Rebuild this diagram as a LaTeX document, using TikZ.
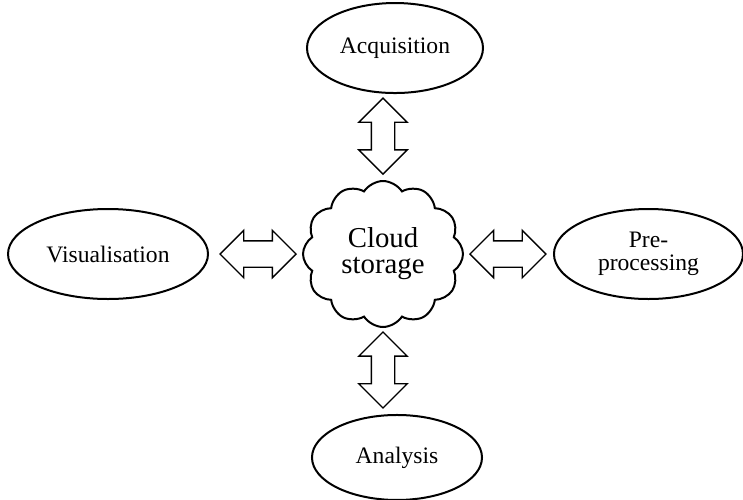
\documentclass[tikz,border=0pt]{standalone}
\usepackage{fontspec}
\setmainfont{Liberation Serif}
\usetikzlibrary{shapes,arrows,positioning}

\begin{document}
\begin{tikzpicture}[
    stage/.style={draw, ellipse, line width=1pt, inner sep=0pt, minimum height=45pt, align=center, font=\fontsize{11.8}{11.8}\selectfont},
    link/.style={draw, double arrow, line width=0.7pt, inner xsep=0pt, inner ysep=5.5pt, minimum height=38pt, double arrow head extend=6.25pt},
    widelink/.style={link, inner ysep=6.25pt, double arrow head extend=5.25pt}
]
    \useasboundingbox (-191.5pt,-122.5pt) rectangle (180pt,127pt);
    % Storage in the middle
    \node[draw, cloud, cloud puffs=12, cloud puff arc=115, line width=1pt, inner sep=0pt, minimum width=80pt, minimum height=73pt, align=center, font=\fontsize{14.4}{13}\selectfont] (store) at (0,0) {Cloud\\storage};
    
    % Arrows round it
    \node[link, rotate=90, above=2.5pt of store, anchor=west] (uplink) {};
    \node[link, rotate=90, below=1.5pt of store, anchor=east] (downlink) {};
    \node[widelink, left=2.5pt of store] (leftlink) {};
    \node[widelink, right=2.5pt of store] (rightlink) {};
    
    % Stages
    \node[stage, minimum width=88pt, above=1.5pt of uplink.east, xshift=6pt] (acq) {Acquisition};
    \node[stage, minimum width=85pt, minimum height=42.5pt, below=2.5pt of downlink.west, xshift=7pt] (ana) {Analysis};
    \node[stage, minimum width=100pt, left=5pt of leftlink] (vis) {Visualisation};
    \node[stage, minimum width=94.5pt, right=3pt of rightlink] (pre) {Pre-\\processing};
\end{tikzpicture}
\end{document}
